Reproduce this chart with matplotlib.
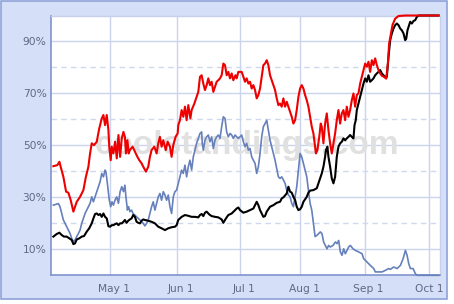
import matplotlib
matplotlib.use('Agg')
import matplotlib.pyplot as plt
import matplotlib.transforms as mtransforms
from matplotlib.patches import Rectangle

#####################################
# playoff odds (%), x = game-day index of the season
red_x = [2.7, 4.6, 5.6, 6.2, 7.5, 8.8, 9.9, 11.0, 12.3, 13.1, 13.9, 15.5, 17.1, 18.3, 19.5, 20.3, 21.1, 22.2,
         23.5, 24.7, 25.9, 26.7, 27.5, 28.3, 29.1, 29.5, 30.2, 30.7, 31.5, 32.3, 33.1, 33.9, 34.7, 35.5, 36.3,
         37.0, 37.5, 38.2, 38.8, 39.4, 40.7, 41.8, 43.0, 43.9, 45.0, 45.8, 47.1,
         48.2, 49.0, 49.8, 51.1, 52.2, 53.0, 53.8, 54.6, 55.4, 56.6, 57.5, 58.6, 59.4, 60.2, 61.3, 62.3, 62.6,
         63.4, 64.2, 65.0, 65.8, 66.6, 67.4, 68.4, 69.0, 70.3, 71.4, 72.2, 73.0, 73.8, 74.6, 75.4, 76.2, 77.0,
         77.8, 78.6, 79.4, 80.2, 81.0, 81.8, 82.6, 83.4, 84.2, 85.0, 85.8, 86.6, 87.4, 88.2, 89.0, 90.0, 90.6,
         91.4, 93.0, 93.8, 94.6, 95.4, 96.2, 97.0, 97.8, 98.6, 99.4, 100.2, 101.0, 101.8, 102.6, 103.4, 104.2,
         105.0, 105.8, 106.6, 107.4, 108.2, 109.0, 109.8, 110.6, 111.4, 112.2, 113.0, 113.8, 114.6, 115.4,
         116.2, 117.0, 117.8, 118.6, 119.4, 120.2, 121.0, 121.8, 122.6, 123.4, 124.2, 125.0, 125.8, 126.6,
         127.4, 128.2, 128.6, 129.3, 130.2, 130.9, 131.4, 132.2, 133.0, 133.8, 134.6, 135.4, 136.2, 137.0,
         137.8, 138.6, 139.4, 140.2, 141.0, 141.8, 142.6, 143.4, 144.2, 145.0, 145.8, 146.6, 147.4, 148.2,
         149.0, 149.8, 150.6, 151.4, 152.2, 153.0, 153.8, 154.6, 155.4, 156.2, 157.0, 157.8, 158.6, 159.4,
         160.2, 161.0, 161.8, 162.3, 163.1, 163.7, 164.3, 165.3, 166.6, 168.2, 171.4, 187.4]
red_y = [42.0, 42.4, 43.7, 41.8, 37.9, 32.2, 31.8, 29.0, 24.5, 26.4, 28.3, 30.2, 32.8, 37.9, 41.8, 46.9, 50.8, 50.1,
         51.4, 56.5, 60.4, 61.7, 57.8, 61.7, 55.9, 49.5, 44.3, 49.5, 46.9, 51.4, 45.0, 54.0, 45.6, 52.7, 55.2,
         53.3, 46.9, 52.0, 46.9, 48.2, 49.5, 47.6, 45.6, 44.3, 43.1, 41.8, 39.9,
         41.8, 45.6, 48.2, 49.5, 46.9, 50.8, 53.3, 49.5, 52.0, 48.2, 51.4, 49.5, 45.6, 50.1, 53.3, 54.6, 57.8,
         59.7, 63.6, 61.0, 64.9, 59.7, 65.5, 60.4, 63.6, 66.1, 68.7, 70.6, 76.4, 77.0, 73.8, 71.3, 73.2, 75.8,
         73.2, 74.5, 70.6, 72.6, 74.5, 75.1, 75.8, 77.0, 81.5, 80.9, 77.0, 78.3, 75.8, 77.7, 75.1, 77.0, 75.8,
         78.3, 78.3, 76.4, 74.5, 75.8, 73.8, 74.5, 71.9, 73.2, 71.3, 68.1, 69.4, 71.9, 76.4, 80.9, 81.5,
         82.8, 80.9, 77.0, 75.1, 73.2, 71.3, 68.1, 65.5, 66.1, 64.9, 68.1, 64.9, 66.8, 64.9,
         62.9, 61.0, 58.4, 59.7, 63.6, 68.7, 71.9, 73.2, 71.9, 69.4, 67.4, 64.9, 61.0, 57.2,
         54.6, 49.5, 46.9, 48.2, 53.3, 58.4, 57.2, 50.8, 58.4, 62.3, 55.9, 50.8, 46.9, 50.8,
         54.6, 59.7, 63.6, 58.4, 62.3, 63.6, 59.7, 64.9, 61.0, 63.6, 67.4, 70.0, 64.9, 69.4,
         70.0, 73.8, 76.4, 79.0, 81.5, 80.3, 82.2, 78.3, 82.8, 80.9, 83.5, 80.9, 79.0, 77.7,
         76.8, 76.5, 76.0, 75.7, 81.5, 89.2, 91.8, 96.3, 98.8, 99.8, 100.0, 100.0]

black_x = [2.7, 4.3, 5.6, 6.7, 7.8, 9.1, 10.4, 11.5, 12.3, 13.1, 13.9, 15.1, 16.3, 17.4, 18.7, 19.9, 21.1, 21.9,
           22.7, 23.5, 24.3, 25.1, 25.9, 26.7, 27.5, 28.3, 29.1, 29.9, 30.7, 31.5, 32.3, 33.1, 33.9, 34.7, 35.5,
           36.3, 37.0, 37.8, 38.6, 39.4, 40.2, 41.0, 41.8, 42.6, 43.4, 44.2, 45.0, 45.8,
           46.6, 48.2, 49.8, 51.4, 53.0, 54.6, 56.2, 57.8, 59.4, 61.0, 61.8, 62.6, 64.2, 65.8, 67.4, 69.0, 70.6,
           72.2, 73.0, 73.8, 74.6, 75.4, 76.2, 77.0, 77.8, 78.6, 80.2, 81.8, 83.4, 84.2, 85.0, 85.8, 86.6, 88.2,
           89.8, 90.6, 91.4, 92.2, 93.8, 95.4, 97.0, 98.6, 100.2, 101.0, 101.8, 103.4, 104.2, 105.0, 106.6, 108.2,
           109.8, 111.4, 112.2, 113.0, 114.6, 115.4, 116.2, 117.0, 117.8, 118.6, 119.4, 120.2, 121.0, 121.8,
           122.6, 124.2, 125.0, 125.8, 127.4, 129.0, 130.6, 131.4, 132.2, 133.0, 133.4, 134.1, 134.6, 135.4,
           136.2, 137.0, 137.8, 138.6, 139.4, 140.2, 141.0, 141.8, 142.6, 143.4, 144.2, 145.0, 145.8, 146.6,
           147.1, 147.7, 148.2, 149.0, 149.8, 150.6, 151.4, 152.2, 153.0, 153.8, 154.6, 155.4, 156.2, 157.0,
           157.8, 158.6, 159.4, 160.2, 161.0, 161.8, 162.6, 163.4, 164.2, 165.0, 165.8, 166.6, 167.4, 168.2,
           169.0, 169.8, 170.6, 171.4, 171.9, 172.5, 173.0, 173.8, 174.6, 175.4, 176.2, 177.0, 177.8, 187.4]
black_y = [14.9, 15.9, 16.4, 15.5, 14.9, 14.9, 14.2, 13.6, 12.0, 12.3, 13.8, 14.2, 14.9, 15.1, 16.8, 18.1, 20.0, 21.9,
           23.6, 23.8, 23.2, 23.6, 22.5, 23.8, 22.5, 21.9, 18.9, 18.7, 19.3, 19.3, 19.7, 20.0, 19.3, 20.0, 20.0,
           20.6, 21.3, 20.2, 21.0, 21.5, 21.9, 23.2, 22.5, 20.6, 20.2, 20.0, 21.0, 21.5,
           21.3, 21.0, 20.6, 20.0, 18.7, 18.1, 17.4, 18.1, 18.5, 18.7, 19.3, 21.3, 22.5, 23.2, 22.9, 22.5, 22.5,
           22.3, 23.2, 23.6, 22.8, 24.1, 24.5, 23.8, 23.2, 22.8, 22.5, 22.3, 21.5, 20.2, 21.3, 22.3, 23.2, 23.8,
           25.1, 25.7, 26.1, 25.1, 24.1, 24.5, 25.1, 25.7, 28.3, 27.0, 25.1, 22.5, 22.8, 24.5, 26.4, 27.0,
           27.9, 28.3, 29.6, 30.0, 31.5, 34.1, 32.2, 31.8, 30.2, 29.0, 26.4, 25.1, 25.4, 26.4,
           28.3, 30.2, 31.8, 32.6, 32.8, 33.5, 37.3, 39.2, 41.8, 45.6, 48.2, 49.5, 45.6, 41.8,
           37.3, 35.4, 37.9, 45.6, 49.5, 50.8, 51.4, 52.7, 52.0, 52.7, 53.3, 54.0, 53.3, 52.7,
           57.8, 59.7, 63.6, 66.1, 68.7, 71.3, 73.8, 75.8, 74.5, 77.0, 74.5, 75.1, 75.8, 77.0,
           77.7, 78.3, 79.0, 77.7, 77.0, 76.4, 76.4, 84.1, 90.5, 93.1, 95.0, 96.3, 96.9, 96.3,
           95.0, 94.3, 93.1, 90.5, 91.1, 94.3, 95.6, 97.6, 96.9, 97.9, 98.2, 99.5, 100.0, 100.0]

blue_x = [2.7, 4.3, 5.1, 5.9, 6.7, 7.5, 8.3, 9.1, 9.9, 10.7, 11.5, 12.3, 13.1, 13.9, 14.7, 15.5, 16.3, 17.1, 17.9,
          18.7, 19.5, 20.3, 21.1, 21.9, 22.7, 23.5, 24.3, 25.1, 25.9, 26.7, 27.5, 27.9, 28.6, 29.5, 30.2, 30.8,
          31.5, 32.3, 33.1, 33.9, 34.7, 35.5, 36.3, 37.0, 37.5, 38.2, 38.8, 39.4, 40.2, 41.0, 41.8, 42.6, 43.4,
          44.2, 45.0, 45.8,
          46.6, 47.4, 48.2, 49.0, 49.8, 50.6, 51.4, 52.2, 53.0, 53.8, 54.6, 55.4, 56.2, 57.0, 57.8, 58.6, 59.4,
          60.2, 61.0, 61.8, 62.6, 63.4, 64.2, 65.0, 65.8, 66.6, 67.4, 68.2, 69.0, 69.8, 70.6, 71.4, 72.2, 73.0,
          73.8, 74.1, 74.6, 75.4, 76.2, 77.0, 77.8, 78.6, 79.4, 80.2, 81.0, 81.8, 82.6, 83.4, 84.2, 85.0, 85.8,
          86.6, 87.4, 88.2, 89.0, 89.8, 90.6, 91.4,
          92.2, 93.0, 93.8, 94.6, 95.4, 96.2, 97.0, 97.8, 98.6, 99.4, 100.2, 101.0, 101.8, 102.6, 103.4, 104.2,
          105.0, 105.8, 106.6, 107.4, 108.2, 109.0, 109.8, 110.6, 111.4, 112.2, 113.0, 113.8, 114.6, 115.4,
          116.2, 117.0, 117.8, 118.6, 119.4, 120.2, 121.0, 121.8, 122.6, 123.4, 124.2, 125.0, 125.8, 126.6,
          127.4, 128.2,
          129.1, 130.7, 131.5, 132.3, 133.9, 134.7, 135.5, 136.8, 137.9, 138.7, 139.5, 140.3, 141.1, 141.9,
          142.7, 143.5, 144.3, 145.1, 146.4, 147.5, 149.1, 150.7, 151.5, 153.1, 154.7, 156.3, 157.1, 158.7,
          160.3, 161.9, 163.5, 164.3, 165.9, 167.5, 169.1, 170.4, 171.5, 172.3, 173.1, 173.9, 175.2, 176.3,
          177.1, 187.5]
blue_y = [27.0, 27.4, 27.6, 26.4, 23.8, 21.3, 20.0, 18.7, 17.4, 16.1, 14.2, 12.9, 13.6, 14.9, 16.1, 17.4, 20.0, 21.9, 23.8,
          25.1, 26.4, 27.7, 30.2, 28.3, 30.2, 32.2, 34.1, 36.0, 39.2, 37.9, 40.5, 39.9, 35.4, 29.0, 26.4, 28.3,
          27.0, 29.0, 30.2, 27.7, 32.2, 34.1, 32.2, 34.7, 30.2, 25.1, 26.4, 24.5, 25.1, 23.6, 23.2, 22.5, 21.9,
          21.3, 20.6, 20.0,
          19.0, 20.0, 21.3, 23.8, 26.4, 28.3, 25.1, 27.7, 30.2, 31.5, 28.9, 32.2, 30.9, 28.9, 30.9, 26.4, 23.8,
          30.2, 32.2, 32.8, 35.4, 37.9, 40.5, 39.2, 42.4, 37.9, 41.8, 44.3, 40.5, 45.6, 48.2, 50.8, 52.7, 54.6,
          55.2, 50.8, 48.2, 52.0, 53.3, 54.0, 51.4, 53.3, 48.8, 52.0, 53.3, 54.0, 52.7, 57.2, 61.0, 60.4, 55.2,
          53.3, 54.6, 54.0, 52.7, 54.0, 53.3, 52.7,
          53.3, 54.0, 51.4, 49.5, 50.8, 48.2, 48.8, 45.6, 44.3, 43.1, 39.2, 41.8, 46.9, 53.3, 57.2, 58.4,
          59.7, 55.9, 52.0, 49.5, 46.9, 44.3, 41.1, 37.9, 37.3, 37.9, 36.7, 35.4, 32.8, 30.9,
          30.2, 27.7, 26.4, 30.2, 34.1, 40.5, 46.9, 45.6, 43.1, 40.5, 37.9, 32.8, 27.7, 25.1,
          20.0, 14.9,
          15.4, 16.7, 16.0, 12.8, 10.2, 11.5, 10.9, 11.5, 12.8, 12.2, 13.4, 9.0, 7.7, 10.2,
          8.3, 9.6, 10.9, 11.5, 10.2, 9.6, 9.0, 8.3, 6.4, 5.1, 3.8, 2.6, 1.3, 1.3,
          1.3, 1.9, 2.6, 2.3, 3.2, 2.6, 3.8, 6.4, 9.6, 7.7, 4.5, 2.6, 2.6, 0.6,
          0.0, 0.0]

# first game-day of each month
month_ticks = [30, 62, 92, 121, 152, 183]
month_labels = ['May 1', 'Jun 1', 'Jul 1', 'Aug 1', 'Sep 1', 'Oct 1']
pct_ticks = [10, 30, 50, 70, 90]
pct_minor = [20, 40, 60, 80]

#####################################
plt.rcParams['font.family'] = 'DejaVu Sans'
fig = plt.figure(figsize=(4.54, 3.04), dpi=100, facecolor='white')

# light blue frame behind everything
fig.patches.append(Rectangle((0.002, 0.0165), 0.982, 0.980, transform=fig.transFigure,
                             facecolor='#d5dff7', edgecolor='#8ea2d8', linewidth=1.2, zorder=-10))

ax = fig.add_axes([0.1134, 0.0944, 0.8558, 0.8546])
ax.set_zorder(1)
ax.set_facecolor('white')

ax.plot(blue_x, blue_y, color='#6680bb', lw=1.2, zorder=3, clip_on=False)
ax.plot(black_x, black_y, color='black', lw=1.5, zorder=4, clip_on=False)
ax.plot(red_x, red_y, color='#ee0000', lw=1.5, zorder=5, clip_on=False)

# watermark
ax.text(0.503, 0.468, 'coolstandings.com', transform=ax.transAxes, ha='center', va='baseline',
        fontsize=24, fontweight='bold', family='Liberation Sans', color='#e0e0e0', zorder=2)

ax.set_xlim(1.8, 188.1)
ax.set_ylim(0, 100)
ax.set_xticks(month_ticks)
ax.set_xticklabels(month_labels)
ax.set_yticks(pct_ticks)
ax.set_yticklabels(['%d%%' % v for v in pct_ticks])
ax.set_yticks(pct_minor, minor=True)

ax.grid(True, which='major', color='#cad4ec', lw=1.0, zorder=1)
ax.grid(True, which='minor', axis='y', color='#cfd8ee', lw=1.0, linestyle=(0, (4, 3)), zorder=1)
ax.tick_params(which='both', length=0)
ax.tick_params(axis='x', pad=6.5, labelsize=7.7, colors='#5f6886')
ax.tick_params(axis='y', pad=3.5, labelsize=7.7, colors='#5f6886')
ax.set_axisbelow(True)

for side in ['left', 'bottom']:
    ax.spines[side].set_color('#8094cc')
    ax.spines[side].set_linewidth(1.2)
for side in ['top', 'right']:
    ax.spines[side].set_color('#c6d0ea')
    ax.spines[side].set_linewidth(1.0)

# month labels sit a little right of their gridline (last one kept inside the frame)
shift = mtransforms.ScaledTranslation(4 / 100, 0, fig.dpi_scale_trans)
for lbl in ax.get_xticklabels()[:-1]:
    lbl.set_transform(lbl.get_transform() + shift)

fig.savefig('out.png', dpi=100, facecolor=fig.get_facecolor())
